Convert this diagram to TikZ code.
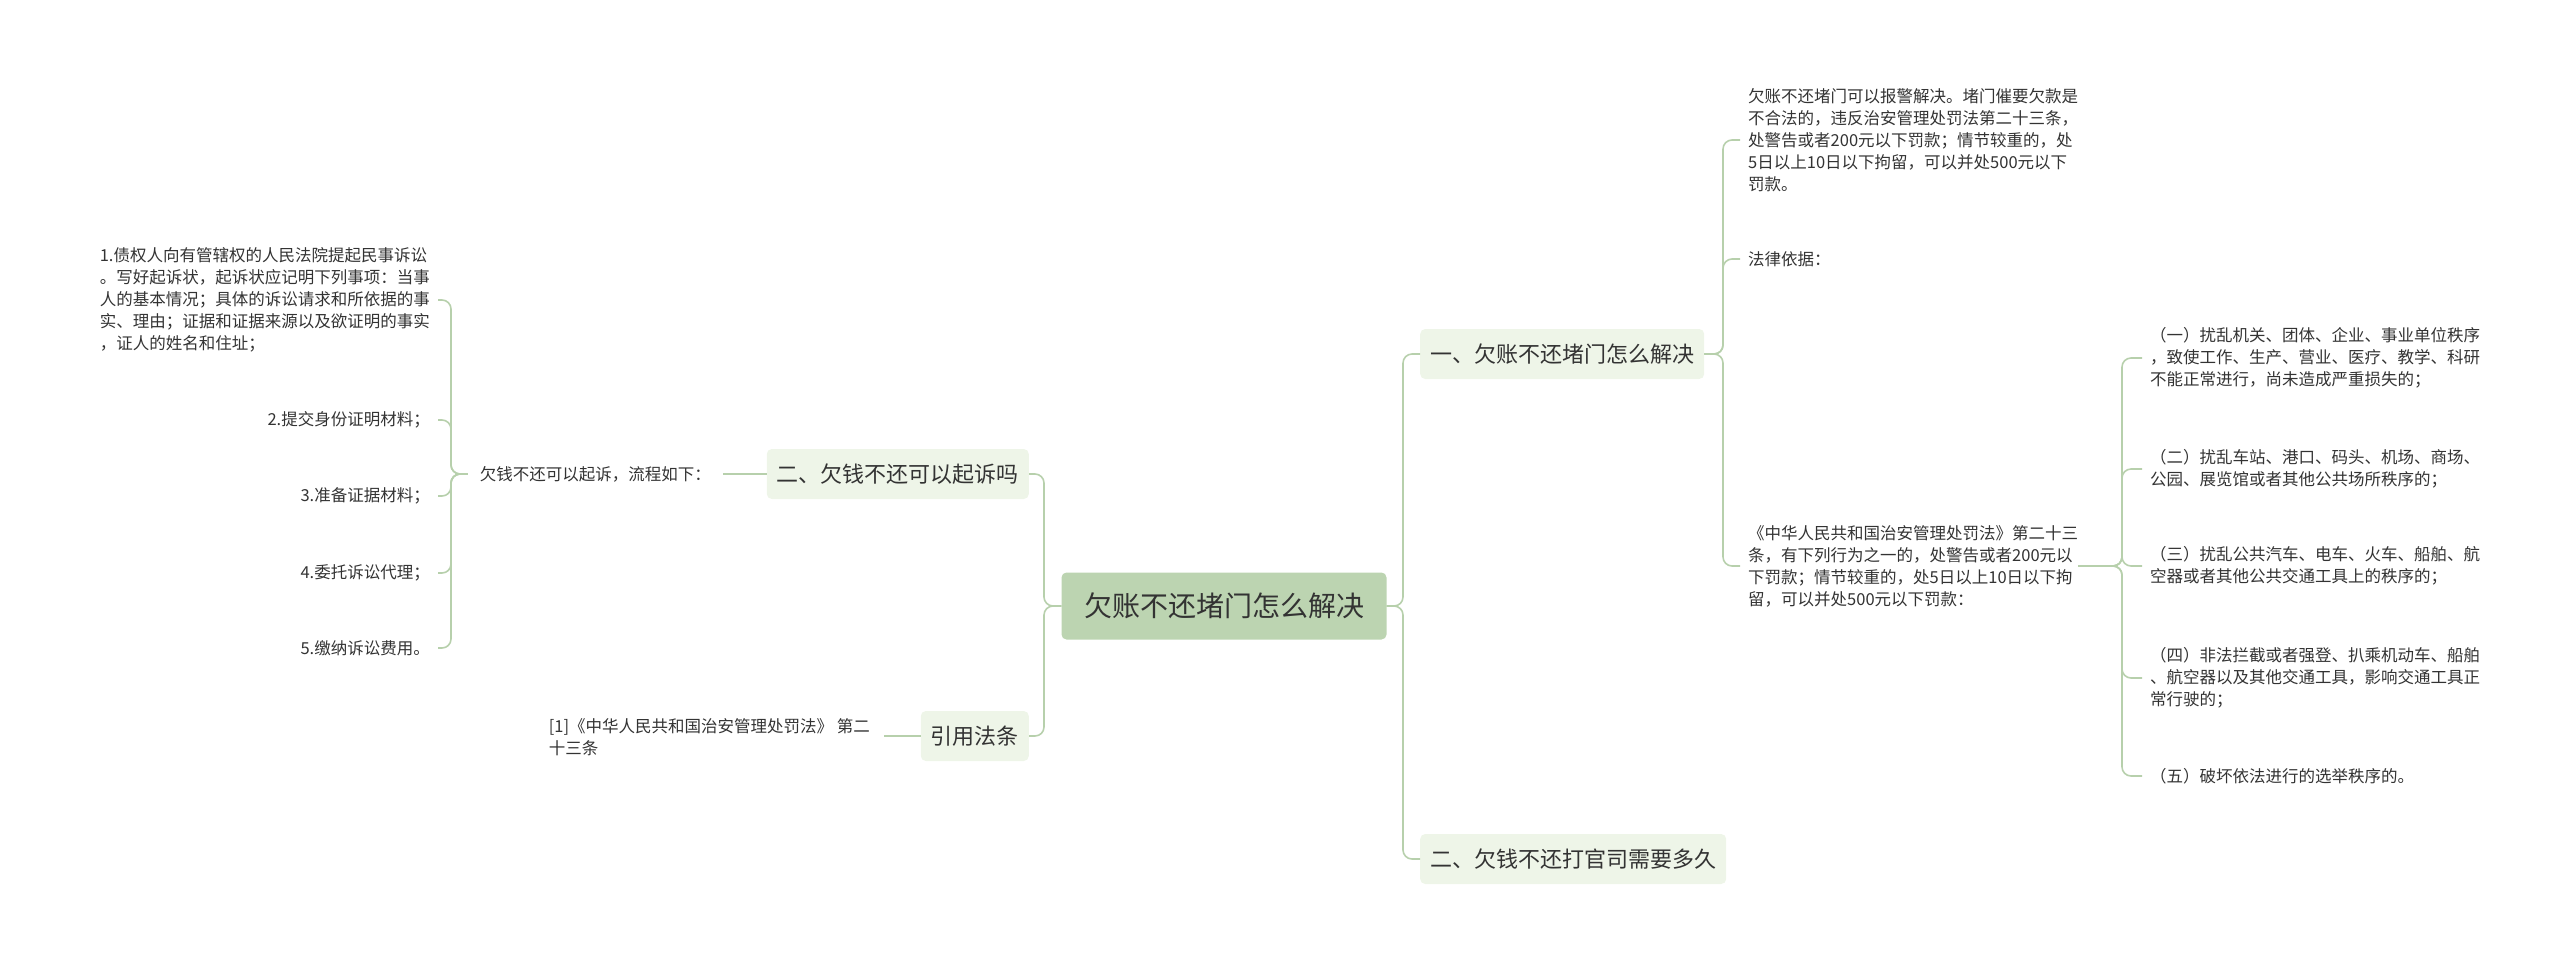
\documentclass[tikz,border=0pt]{standalone}
\usepackage{fontspec}
\setmainfont{Noto Sans CJK SC}
\usetikzlibrary{positioning}
\definecolor{linkgreen}{HTML}{B7D0AC}
\definecolor{rootfill}{HTML}{BCD4B1}
\definecolor{topicfill}{HTML}{EEF5E8}
\definecolor{inkgray}{HTML}{333333}

\begin{document}
\begin{tikzpicture}[x=1pt,y=-1pt,
    root/.style = {fill=rootfill, rounded corners=5pt, minimum width=325pt, minimum height=67pt, font=\fontsize{28}{32}\selectfont, text=inkgray},
    topic/.style = {fill=topicfill, rounded corners=5pt, minimum height=50pt, inner xsep=10pt, font=\fontsize{22}{26}\selectfont, text=inkgray},
    leaf/.style = {inner sep=0pt, font=\fontsize{16.5}{22}\selectfont, text=inkgray},
    link/.style = {draw=linkgreen, line width=1.6pt, rounded corners=9pt}]
      \useasboundingbox (0,0) rectangle (2560,954);

      % root and main topics
      \node[root]  (root) at (1224,606) {欠账不还堵门怎么解决};
      \node[topic, anchor=west] (t1) at (1420,354) {一、欠账不还堵门怎么解决};
      \node[topic, anchor=west] (t2) at (1420,859) {二、欠钱不还打官司需要多久};
      \node[topic, anchor=east] (t3) at (1029,474) {二、欠钱不还可以起诉吗};
      \node[topic, anchor=east] (t4) at (1029,736) {引用法条};

      % right side leaves
      \node[leaf, anchor=west, align=left] (a1) at (1748,140) {欠账不还堵门可以报警解决。堵门催要欠款是\\不合法的，违反治安管理处罚法第二十三条，\\处警告或者200元以下罚款；情节较重的，处\\5日以上10日以下拘留，可以并处500元以下\\罚款。};
      \node[leaf, anchor=west] (a2) at (1748,259) {法律依据：};
      \node[leaf, anchor=west, align=left] (a3) at (1748,566) {《中华人民共和国治安管理处罚法》第二十三\\条，有下列行为之一的，处警告或者200元以\\下罚款；情节较重的，处5日以上10日以下拘\\留，可以并处500元以下罚款：};
      \node[leaf, anchor=west, align=left] (b1) at (2150,358) {（一）扰乱机关、团体、企业、事业单位秩序\\，致使工作、生产、营业、医疗、教学、科研\\不能正常进行，尚未造成严重损失的；};
      \node[leaf, anchor=west, align=left] (b2) at (2150,469) {（二）扰乱车站、港口、码头、机场、商场、\\公园、展览馆或者其他公共场所秩序的；};
      \node[leaf, anchor=west, align=left] (b3) at (2150,566) {（三）扰乱公共汽车、电车、火车、船舶、航\\空器或者其他公共交通工具上的秩序的；};
      \node[leaf, anchor=west, align=left] (b4) at (2150,678) {（四）非法拦截或者强登、扒乘机动车、船舶\\、航空器以及其他交通工具，影响交通工具正\\常行驶的；};
      \node[leaf, anchor=west] (b5) at (2150,776) {（五）破坏依法进行的选举秩序的。};

      % left side leaves
      \node[leaf, anchor=east] (c0) at (711,474) {欠钱不还可以起诉，流程如下：};
      \node[leaf, anchor=east, align=left] (d1) at (430,300) {1.债权人向有管辖权的人民法院提起民事诉讼\\。写好起诉状，起诉状应记明下列事项：当事\\人的基本情况；具体的诉讼请求和所依据的事\\实、理由；证据和证据来源以及欲证明的事实\\，证人的姓名和住址；};
      \node[leaf, anchor=east] (d2) at (430,420) {2.提交身份证明材料；};
      \node[leaf, anchor=east] (d3) at (430,496) {3.准备证据材料；};
      \node[leaf, anchor=east] (d4) at (430,573) {4.委托诉讼代理；};
      \node[leaf, anchor=east] (d5) at (430,648) {5.缴纳诉讼费用。};
      \node[leaf, anchor=east, align=left] (e1) at (870,737) {[1]《中华人民共和国治安管理处罚法》 第二\\十三条};

      % spines
      \coordinate (sr) at (1403,0);
      \coordinate (sl) at (1044,0);
      \coordinate (sa) at (1723,0);
      \coordinate (sb) at (2122,0);
      \coordinate (sd) at (451,0);

      \foreach \c in {t1,t2} \draw[link] (root.east) -- (root.east -| sr) |- (\c.west);
      \foreach \c in {t3,t4} \draw[link] (root.west) -- (root.west -| sl) |- (\c.east);
      \foreach \c in {a1,a2,a3} \draw[link] (t1.east) -- (t1.east -| sa) |- ([xshift=-8pt]\c.west);
      \foreach \c in {b1,b2,b3,b4,b5} \draw[link] (a3.east) -- (a3.east -| sb) |- ([xshift=-8pt]\c.west);
      \draw[link] (t3.west) -- ([xshift=12pt]c0.east);
      \foreach \c in {d1,d2,d3,d4,d5} \draw[link] ([xshift=-12pt]c0.west) -- (c0.west -| sd) |- ([xshift=8pt]\c.east);
      \draw[link] (t4.west) -- ([xshift=14pt]e1.east |- t4.west);
\end{tikzpicture}
\end{document}
